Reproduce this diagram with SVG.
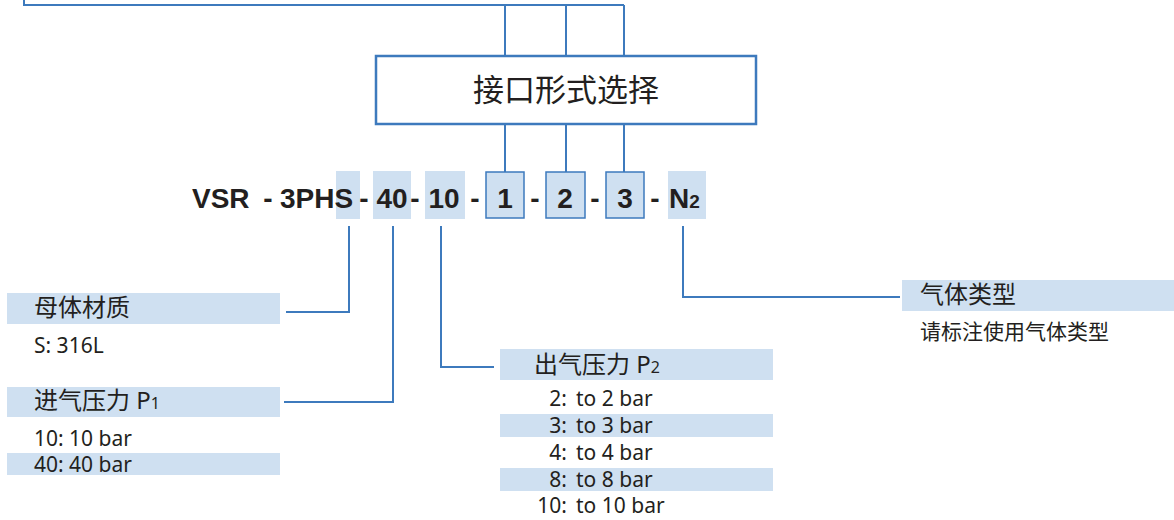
<svg xmlns="http://www.w3.org/2000/svg" width="1174" height="520" viewBox="0 0 1174 520">
<style>
.ln{fill:none;stroke:#3d7abd;stroke-width:2}
.band{fill:#cfe0f1}
.cell{fill:#cfe0f1;stroke:#3d7abd;stroke-width:1.5}
.code{font-family:"Liberation Sans",Arial,sans-serif;font-weight:bold;font-size:28px;fill:#231f20}
.h{font-family:"Noto Sans","Noto Sans CJK SC",sans-serif;font-size:24px;fill:#231f20}
.t{font-family:"Noto Sans","Noto Sans CJK SC",sans-serif;font-size:21px;fill:#231f20}
.title{font-family:"Noto Sans CJK SC",sans-serif;font-size:31px;fill:#231f20}
</style>
<rect width="1174" height="520" fill="#fff"/>
<g id="connectors">
<path class="ln" d="M24 0V5H624"/>
<path class="ln" d="M505 5V56M566 5V56M624 5V56"/>
<path class="ln" d="M505 124V172M566 124V172M624 124V172"/>
<path class="ln" d="M349 226V312H286"/>
<path class="ln" d="M393 226V402H284"/>
<path class="ln" d="M441 226V367H494"/>
<path class="ln" d="M683 226V297H900"/>
</g>
<g id="selector">
<rect x="376" y="56" width="380" height="68" fill="#fff" stroke="#3d7abd" stroke-width="2.5"/>
<text class="title" x="566" y="101" text-anchor="middle">接口形式选择</text>
</g>
<g id="code">
<rect class="band" x="336" y="171" width="24" height="48"/>
<rect class="band" x="373" y="171" width="38" height="48"/>
<rect class="band" x="425" y="171" width="40" height="48"/>
<rect class="cell" x="486" y="172" width="38" height="46"/>
<rect class="cell" x="546" y="172" width="39" height="46"/>
<rect class="cell" x="606" y="172" width="38" height="46"/>
<rect class="band" x="668" y="171" width="38" height="48"/>
<text class="code" x="192" y="208">VSR</text>
<text class="code" x="268" y="208" text-anchor="middle">-</text>
<text class="code" x="280" y="208">3PHS</text>
<text class="code" x="364" y="208" text-anchor="middle">-</text>
<text class="code" x="392" y="208" text-anchor="middle">40</text>
<text class="code" x="415" y="208" text-anchor="middle">-</text>
<text class="code" x="444" y="208" text-anchor="middle">10</text>
<text class="code" x="475" y="208" text-anchor="middle">-</text>
<text class="code" x="505" y="208" text-anchor="middle">1</text>
<text class="code" x="535" y="208" text-anchor="middle">-</text>
<text class="code" x="565" y="208" text-anchor="middle">2</text>
<text class="code" x="595" y="208" text-anchor="middle">-</text>
<text class="code" x="625" y="208" text-anchor="middle">3</text>
<text class="code" x="655" y="208" text-anchor="middle">-</text>
<text class="code" x="669" y="208">N<tspan font-size="19px">2</tspan></text>
</g>
<g id="material">
<rect class="band" x="7" y="293" width="273" height="31"/>
<text class="h" x="34" y="316">母体材质</text>
<text class="t" x="34" y="353">S: 316L</text>
</g>
<g id="inlet">
<rect class="band" x="7" y="387" width="273" height="30"/>
<text class="h" x="34" y="409">进气压力 P<tspan font-size="16px">1</tspan></text>
<text class="t" x="34" y="446">10: 10 bar</text>
<rect class="band" x="7" y="453" width="273" height="22"/>
<text class="t" x="34" y="472">40: 40 bar</text>
</g>
<g id="outlet">
<rect class="band" x="500" y="349" width="273" height="31"/>
<text class="h" x="534" y="373">出气压力 P<tspan font-size="16px">2</tspan></text>
<rect class="band" x="500" y="414" width="273" height="23"/>
<rect class="band" x="500" y="468" width="273" height="23"/>
<text class="t" x="567" y="406" text-anchor="end">2:</text><text class="t" x="576" y="406">to 2 bar</text>
<text class="t" x="567" y="433" text-anchor="end">3:</text><text class="t" x="576" y="433">to 3 bar</text>
<text class="t" x="567" y="460" text-anchor="end">4:</text><text class="t" x="576" y="460">to 4 bar</text>
<text class="t" x="567" y="487" text-anchor="end">8:</text><text class="t" x="576" y="487">to 8 bar</text>
<text class="t" x="567" y="513" text-anchor="end">10:</text><text class="t" x="576" y="513">to 10 bar</text>
</g>
<g id="gas">
<rect class="band" x="902" y="280" width="272" height="31"/>
<text class="h" x="920" y="303">气体类型</text>
<text class="t" x="920" y="339">请标注使用气体类型</text>
</g>
</svg>
